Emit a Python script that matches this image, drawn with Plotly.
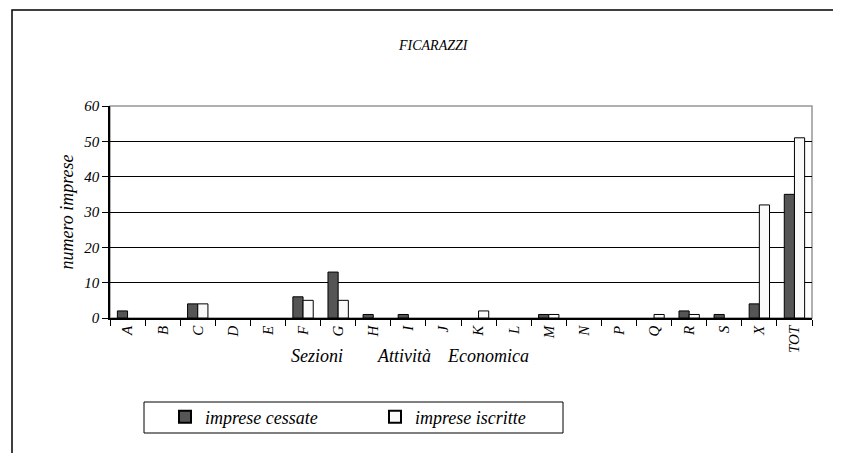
import plotly.graph_objects as go

categorie = ['A', 'B', 'C', 'D', 'E', 'F', 'G', 'H', 'I', 'J',
             'K', 'L', 'M', 'N', 'P', 'Q', 'R', 'S', 'X', 'TOT']
cessate = [2, 0, 4, 0, 0, 6, 13, 1, 1, 0, 0, 0, 1, 0, 0, 0, 2, 1, 4, 35]
iscritte = [0, 0, 4, 0, 0, 5, 5, 0, 0, 0, 2, 0, 1, 0, 0, 1, 1, 0, 32, 51]

FONT = 'Liberation Serif, Times New Roman, serif'

# page has an 8px body margin, so the figure starts at (8, 8)
OFF = 8
SW, SH = 841, 453
# plot area in screen pixels
L, R, T, B = 110, 812, 106, 318

def px(x):
    return (x - L) / (R - L)

def py(y):
    return (B - y) / (B - T)

# no outline for empty bars
def contorno(vals):
    return [1 if v else 0 for v in vals]

def testo(t, x, y, size):
    return dict(text=t, x=px(x), y=py(y), xref='paper', yref='paper',
                xanchor='center', yanchor='middle', showarrow=False,
                font=dict(family=FONT, size=size, style='italic'))

fig = go.Figure([
    go.Bar(
        name='imprese cessate',
        x=categorie,
        y=cessate,
        marker=dict(color='rgb(85,85,85)',
                    line=dict(color='black', width=contorno(cessate))),
    ),
    go.Bar(
        name='imprese iscritte',
        x=categorie,
        y=iscritte,
        marker=dict(color='rgb(250,250,250)',
                    line=dict(color='black', width=contorno(iscritte))),
    ),
])

fig.update_layout(
    width=SW - OFF,
    height=SH - OFF,
    margin=dict(l=L - OFF, r=SW - R, t=T - OFF, b=SH - B, autoexpand=False),
    paper_bgcolor='white',
    plot_bgcolor='white',
    barmode='group',
    bargap=0.42,
    bargroupgap=0,
    font=dict(family=FONT, color='black'),
    showlegend=True,
    legend=dict(
        orientation='h',
        x=px(165), y=py(417), xanchor='left', yanchor='middle',
        font=dict(family=FONT, size=18, style='italic'),
        entrywidth=165, entrywidthmode='pixels',
        bgcolor='rgba(0,0,0,0)',
        itemsizing='constant',
    ),
    annotations=[
        testo('FICARAZZI', 433, 45, 14),
        testo('Sezioni', 317, 356, 18),
        testo('Attività', 404, 356, 18),
        testo('Economica', 488, 356, 18),
    ],
    shapes=[
        # outer chart frame
        dict(type='rect', xref='paper', yref='paper',
             x0=px(12), x1=px(837), y0=py(470), y1=py(10),
             line=dict(color='black', width=1.5), layer='below'),
        # plot area frame
        dict(type='rect', xref='paper', yref='paper',
             x0=0, x1=1, y0=0, y1=1,
             line=dict(color='rgb(150,150,150)', width=1.5), layer='below'),
        # legend box
        dict(type='rect', xref='paper', yref='paper',
             x0=px(144), x1=px(563), y0=py(433), y1=py(402),
             line=dict(color='black', width=1)),
    ],
)

fig.update_yaxes(
    range=[0, 60],
    dtick=10,
    showgrid=True,
    gridcolor='black',
    gridwidth=1,
    showline=True,
    linecolor='black',
    linewidth=1.5,
    ticks='outside',
    ticklen=6,
    tickcolor='black',
    tickfont=dict(family=FONT, size=15, style='italic'),
    title=dict(text='numero imprese', standoff=5,
               font=dict(family=FONT, size=18, style='italic')),
    zeroline=False,
)

fig.update_xaxes(
    showline=True,
    linecolor='black',
    linewidth=1.5,
    ticks='outside',
    tickson='boundaries',
    ticklen=6,
    tickcolor='black',
    tickangle=-90,
    tickfont=dict(family=FONT, size=15, style='italic'),
)

fig.write_html('out.html')
